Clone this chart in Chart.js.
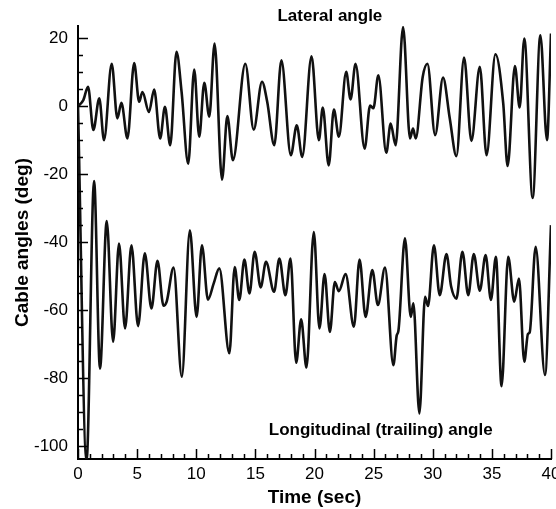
<!DOCTYPE html>
<html>
<head>
    <title>Cable angles</title>
    <script src="https://cdn.jsdelivr.net/npm/chart.js"></script>
    <style>
        body { margin: 0; background: #fff; }
        .chart-container { width: 556px; height: 509px; }
    </style>
</head>
<body>
    <div class="chart-container">
        <canvas id="angleChart"></canvas>
    </div>

    <script>
        const lateralTime = [0, 0.45, 0.85, 1.3, 1.8, 2.2, 2.85, 3.33, 3.67, 4.18, 4.75, 5.17, 5.45, 6.0, 6.44, 6.95,
            7.35, 7.8, 8.33, 8.76, 9.32, 9.83, 10.25, 10.68, 11.1, 11.55, 12.18, 12.63, 13.1, 14.15, 14.86,
            15.56, 16.0, 16.6, 17.2, 18.0, 18.5, 18.96, 19.75, 20.37, 20.7, 21.2, 21.64, 22.06, 22.68, 23.05,
            23.47, 24.24, 24.7, 24.98, 25.4, 26.07, 26.44, 26.86, 27.49, 28.08, 28.33, 28.56, 29.15, 29.55,
            30.2, 30.87, 31.44, 32.0, 32.65, 33.27, 33.98, 34.55, 35.3, 35.96, 36.33, 36.95, 37.35, 37.74,
            38.45, 39.1, 39.66, 40.0];
        const lateralAngle = [0, 1.8, 5.7, -7, 2.3, -10, 12.5, -3.6, 1, -9.5, 12.7, 1.3, 4.2, -1.7, 4.9, -9.5,
            -0.2, -11.5, 16, 4.2, -16.9, 10.8, -9, 6.9, -3.1, 18.4, -21.6, -2.9, -15.9, 12.5, -6.9,
            7.2, 1.3, -11.5, 13.5, -14.4, -5.6, -14.9, 14.7, -10, -0.4, -17.4, -1, -9, 10.1, 2,
            12.5, -12.5, 0.2, -0.6, 9.1, -13.7, -5.1, -11.5, 23.3, -9.5, -6.6, -9.5, 8.6, 12.5,
            -8.5, 8.4, -3.6, -14.7, 14.3, -10.2, 11.6, -14.4, 15.3, 0.8, -17.6, 11.8, -0.4, 19.9,
            -27, 20.9, -10, 21.4];

        // Longitudinal (trailing) angle
        const trailTime = [0, 0.72, 1.36, 1.86, 2.43, 2.97, 3.47, 3.98, 4.52, 5.08, 5.65, 6.21, 6.72, 7.23, 7.5,
            8.08, 8.78, 9.46, 10.03, 10.48, 10.99, 11.47, 11.95, 12.8, 13.25, 13.64, 14.07, 14.5, 14.94,
            15.45, 15.9, 16.58, 17.03, 17.54, 17.97, 18.45, 18.87, 19.32, 19.94, 20.42, 20.85, 21.3, 21.72,
            22.06, 22.63, 23.33, 23.81, 24.32, 24.89, 25.36, 25.96, 26.67, 26.95, 27.1, 27.65, 28.14, 28.36,
            28.87, 29.35, 29.6, 30.1, 30.59, 31.16, 31.55, 32.0, 32.51, 33.0, 33.47, 33.98, 34.47, 34.92,
            35.34, 35.82, 36.38, 36.89, 37.29, 37.74, 38.05, 38.2, 38.7, 39.49, 40.0];
        const trailAngle = [0, -104.5, -22, -77.2, -33.8, -69.3, -40.4, -65.4, -40.9, -64.7, -43.3, -59.5, -45.5, -58.7, -57.5,
            -47.5, -79.6, -36.5, -62, -40.9, -56.9, -52.2, -47.7, -72.7, -47.3, -57, -45.1, -55.1, -42.8,
            -53.3, -45.8, -54.6, -44.8, -55.6, -44.8, -75.5, -62.7, -76.9, -37, -65.4, -49.4, -66.4, -51.7,
            -54.4, -49.4, -64.9, -45.1, -62, -48.2, -58.5, -47.5, -76.2, -67.5, -66, -38.9, -62, -58,
            -90.4, -56.1, -58.8, -40.9, -55.6, -43.5, -53, -56.6, -42.8, -55.6, -43.5, -54.3, -43.8, -57,
            -44.3, -82.4, -44.3, -57.5, -50.7, -75.2, -67, -66.5, -41.4, -79.1, -35];

        const xTicks = [0, 5, 10, 15, 20, 25, 30, 35, 40];
        const yTicks = [-100, -80, -60, -40, -20, 0, 20];

        const FONT = "'Liberation Sans', Arial, sans-serif";

        function toPoints(xs, ys) {
            return xs.map((x, i) => ({ x: x, y: ys[i] }));
        }

        // ticks pointing into the plot, major + minor
        const innerTicks = {
            id: 'innerTicks',
            afterDraw(chart) {
                const { ctx, scales: { x, y } } = chart;
                ctx.save();
                ctx.strokeStyle = '#000';
                ctx.lineWidth = 1.5;
                ctx.beginPath();
                for (let t = xTicks[0]; t <= xTicks[xTicks.length - 1]; t += 1) {
                    const px = Math.round(x.getPixelForValue(t)) + 0.5;
                    const len = xTicks.includes(t) ? 10 : 5;
                    ctx.moveTo(px, y.bottom);
                    ctx.lineTo(px, y.bottom - len);
                }
                for (let v = yTicks[0]; v <= yTicks[yTicks.length - 1]; v += 5) {
                    const py = Math.round(y.getPixelForValue(v)) + 0.5;
                    const len = yTicks.includes(v) ? 10 : 5;
                    ctx.moveTo(x.left, py);
                    ctx.lineTo(x.left + len, py);
                }
                ctx.stroke();
                ctx.restore();
            }
        };

        // curve labels
        const curveLabels = {
            id: 'curveLabels',
            afterDraw(chart) {
                const { ctx, scales: { x, y } } = chart;
                ctx.save();
                ctx.fillStyle = '#000';
                ctx.font = 'bold 17px ' + FONT;
                ctx.textAlign = 'center';
                ctx.textBaseline = 'middle';
                ctx.fillText('Lateral angle', x.getPixelForValue(21.3), y.top - 10);
                ctx.fillText('Longitudinal (trailing) angle', x.getPixelForValue(25.6), y.getPixelForValue(-95.3));
                ctx.restore();
            }
        };

        const ctx = document.getElementById('angleChart').getContext('2d');
        new Chart(ctx, {
            type: 'line',
            data: {
                datasets: [{
                    label: 'Lateral angle',
                    data: toPoints(lateralTime, lateralAngle),
                    borderColor: '#111',
                    borderWidth: 2.6,
                    pointRadius: 0,
                    cubicInterpolationMode: 'monotone'
                }, {
                    label: 'Longitudinal (trailing) angle',
                    data: toPoints(trailTime, trailAngle),
                    borderColor: '#111',
                    borderWidth: 2.6,
                    pointRadius: 0,
                    cubicInterpolationMode: 'monotone'
                }]
            },
            options: {
                responsive: true,
                maintainAspectRatio: false,
                animation: false,
                layout: { padding: { top: 26, right: 5, left: 0, bottom: 0 } },
                plugins: {
                    legend: { display: false },
                    tooltip: { enabled: false }
                },
                scales: {
                    x: {
                        type: 'linear',
                        min: 0,
                        max: 40,
                        // let the "40" run off the edge like the original
                        afterFit: s => { s.height = 50; s.paddingLeft = 0; s.paddingRight = 0; },
                        afterBuildTicks: s => { s.ticks = xTicks.map(v => ({ value: v })); },
                        ticks: {
                            color: '#000',
                            padding: 5,
                            maxRotation: 0,
                            font: { family: FONT, size: 17 }
                        },
                        grid: { drawOnChartArea: false, drawTicks: false },
                        border: { color: '#000', width: 2 },
                        title: {
                            display: true,
                            text: 'Time (sec)',
                            color: '#000',
                            padding: { top: 0, bottom: 0 },
                            font: { family: FONT, size: 19, weight: 'bold' }
                        }
                    },
                    y: {
                        min: -103.8,
                        max: 23.6,
                        afterFit: s => { s.width = 78; s.paddingTop = 0; s.paddingBottom = 0; },
                        afterBuildTicks: s => { s.ticks = yTicks.map(v => ({ value: v })); },
                        ticks: {
                            color: '#000',
                            padding: 10,
                            font: { family: FONT, size: 17 }
                        },
                        grid: { drawOnChartArea: false, drawTicks: false },
                        border: { color: '#000', width: 2 },
                        title: {
                            display: true,
                            text: 'Cable angles (deg)',
                            color: '#000',
                            padding: { top: 11, bottom: 0 },
                            font: { family: FONT, size: 19, weight: 'bold' }
                        }
                    }
                }
            },
            plugins: [innerTicks, curveLabels]
        });
    </script>
</body>
</html>
